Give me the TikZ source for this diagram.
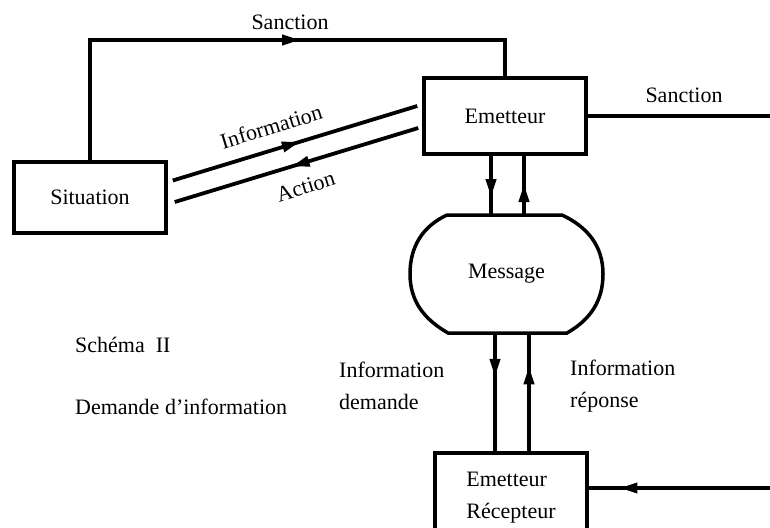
\documentclass[tikz,border=0pt]{standalone}
\usepackage{fontspec}
\setmainfont{Liberation Serif}
\usetikzlibrary{arrows.meta,decorations.markings,calc}
\tikzset{
  box/.style={draw, line width=3.5pt, rectangle, inner sep=0pt},
  conn/.style={line width=3.8pt},
  midarrow/.style={postaction={decorate},decoration={markings,mark=at position #1 with {\arrow{Triangle[length=18pt,width=10pt]}}}},
  lbl/.style={inner sep=0pt},
}
\begin{document}
\begin{tikzpicture}[x=1pt,y=-1pt, font=\fontsize{22}{26}\selectfont]
\useasboundingbox (0,0) rectangle (770,527);
% boxes
\node[box, minimum width=152pt, minimum height=71pt] (sit) at (90,197.5) {Situation};
\node[box, minimum width=162pt, minimum height=76pt] (em) at (505,116) {Emetteur};
\node[minimum width=193pt, minimum height=118pt, inner sep=0pt] (msg) at (506.5,274) {Message};
\draw[line width=3.5pt] (447,215) -- (562,215) to[out=-25,in=90] (603,274) to[out=-90,in=30] (567,333)
  -- (448,333) to[out=150,in=-90] (410,274) to[out=90,in=205] (447,215) -- cycle;
\node[box, minimum width=152pt, minimum height=90pt, align=left, font=\fontsize{22}{32}\selectfont] (er) at (511,498) {Emetteur\\Récepteur};
% coordinates
\coordinate (top) at (0,40);
\coordinate (rout) at (775,116);
\coordinate (rin) at (775,488);
% top sanction
\draw[conn, midarrow=0.578] (sit.north) -- (sit.north |- top) -- (em.north |- top) -- (em.north);
\node[lbl] (lsan1) at (290,22) {Sanction};
% information / action
\draw[conn, midarrow=0.52] ($(sit.east)+(5,-17)$) -- node[lbl, sloped, above=13pt, pos=0.43] (linfo) {Information} ($(em.west)+(-5,-10)$);
\draw[conn, midarrow=0.52] ($(em.west)+(-4,12)$) -- node[lbl, sloped, below=14pt, pos=0.49] (lact) {Action} ($(sit.east)+(7,4.5)$);
% right sanction
\draw[conn] (em.east) -- (rout);
\node[lbl] (lsan2) at (684,95) {Sanction};
% emetteur <-> message
\draw[conn, midarrow=0.7] ([xshift=-14pt]em.south) -- ([xshift=-14pt]em.south |- msg.north);
\draw[conn, midarrow=0.52] ([xshift=19pt]em.south |- msg.north) -- ([xshift=19pt]em.south);
% message <-> emetteur recepteur
\draw[conn, midarrow=0.37] ([xshift=-11.5pt]msg.south) -- ([xshift=-11.5pt]msg.south |- er.north);
\draw[conn, midarrow=0.72] ([xshift=22.5pt]msg.south |- er.north) -- ([xshift=22.5pt]msg.south);
\node[lbl, align=left, anchor=west, font=\fontsize{22}{32}\selectfont] (ldem) at (339,386) {Information\\demande};
\node[lbl, align=left, anchor=west, font=\fontsize{22}{32}\selectfont] (lrep) at (570,386) {Information\\réponse};
% incoming right
\draw[conn, midarrow=0.835] (rin) -- (rin -| er.east);
% captions
\node[lbl, anchor=west] (lsch) at (75,345) {Schéma~~II};
\node[lbl, anchor=west] (ldi) at (75,407) {Demande d'information};
\end{tikzpicture}
\end{document}
